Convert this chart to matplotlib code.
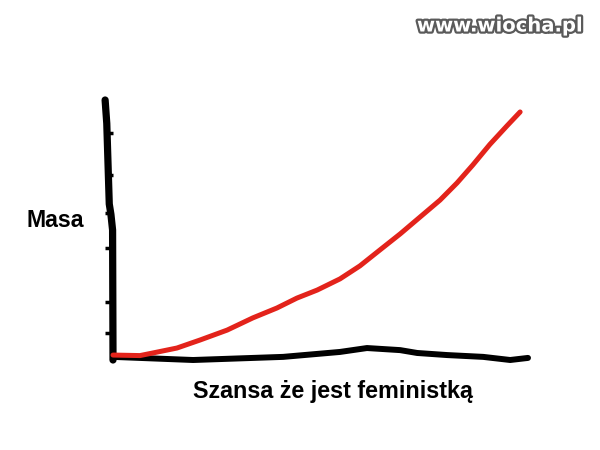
import numpy as np
import matplotlib
matplotlib.use("Agg")
from matplotlib import pyplot as plt
import matplotlib.patheffects as pe

# red curve: mass vs chance of being a feminist (hand drawn)
masa_x = [0, 6.5, 9.6, 15.4, 21.0, 27.5, 33.7, 39.5, 44.3, 49.2, 54.7, 59.5,
          64.3, 69.2, 74.0, 78.8, 82.9, 86.7, 90.8, 94.9, 98.1]
masa_y = [1.9, 1.7, 2.7, 4.6, 7.7, 11.5, 16.2, 20.0, 23.8, 26.9, 31.2, 36.2,
          42.3, 48.5, 55.0, 61.5, 68.1, 75.0, 82.9, 90.0, 95.4]

# wobbly hand drawn x axis
base_x = [0, 19.3, 41, 54.7, 61.2, 69.2, 73.3, 80.5, 89.2, 95.7, 100]
base_y = [1.2, 0, 1.2, 3.1, 4.6, 3.8, 2.7, 1.9, 1.2, 0, 0.8]

# wobbly hand drawn y axis
yax_x = [-1.9, -1.5, -0.9, -0.5, -0.1, 0, 0]
yax_y = [100, 91, 60, 56, 50, 1.2, 0]

ytick_pos = [87.3, 71.2, 56.5, 43.1, 22.3, 10.4]

ylabel = "Masa"
xlabel = "Szansa że jest feministką"
watermark = "www.wiocha.pl"

plt.rcParams['font.family'] = ['Liberation Sans', 'DejaVu Sans']

fig = plt.figure(figsize=(6, 4.5), dpi=100)
ax = fig.add_axes([113/600, 90/450, 415/600, 260/450])

ax.plot(yax_x, yax_y, c="black", lw=5.2, solid_capstyle="round",
        solid_joinstyle="round", clip_on=False, zorder=3)
ax.plot(base_x, base_y, c="black", lw=4.3, solid_capstyle="round",
        solid_joinstyle="round", clip_on=False, zorder=3)
ax.plot(masa_x, masa_y, c="#e3231b", lw=3.6, solid_capstyle="round",
        solid_joinstyle="round", clip_on=False, zorder=4)

ax.set_xlim(0, 100)
ax.set_ylim(0, 100)
for s in ax.spines.values():
    s.set_visible(False)
ax.set_xticks([])
ax.set_yticks(ytick_pos)
ax.set_yticklabels([])
ax.tick_params(axis="y", direction="out", length=6, width=2.5, color="black", pad=0)

fig.text(55/600, 1 - 227/450, ylabel, ha="center", va="baseline",
         fontsize=16.7, fontweight="bold")
fig.text(333/600, 1 - 398/450, xlabel, ha="center", va="baseline",
         fontsize=16.8, fontweight="bold")
fig.text(583/600, 1 - 26/450, watermark, ha="right", va="center",
         fontsize=14.1, fontweight="bold", family=["DejaVu Sans"], color="white",
         path_effects=[pe.withStroke(linewidth=3.2, foreground="#5a5a5a")])

fig.savefig("out.png", dpi=100, facecolor="white")
